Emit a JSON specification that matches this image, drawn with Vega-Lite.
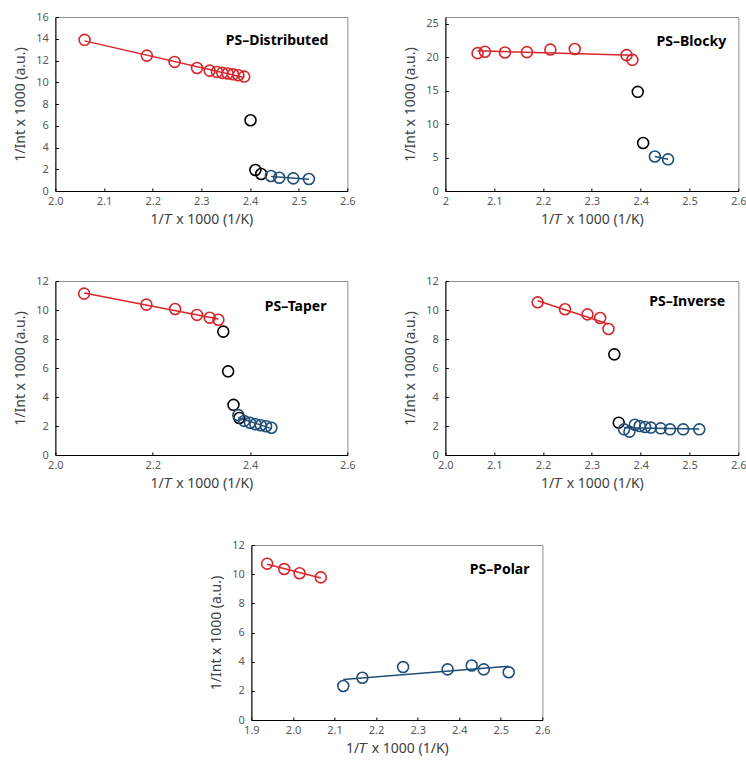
{
  "$schema": "https://vega.github.io/schema/vega-lite/v6.json",
  "background": "white",
  "padding": {"left": 13, "top": 10, "right": 0, "bottom": 0},
  "datasets": {
    "pts": [
      {"panel": "D", "grp": "red", "invT": 2.060, "invI": 13.9},
      {"panel": "D", "grp": "red", "invT": 2.188, "invI": 12.45},
      {"panel": "D", "grp": "red", "invT": 2.245, "invI": 11.87},
      {"panel": "D", "grp": "red", "invT": 2.291, "invI": 11.31},
      {"panel": "D", "grp": "red", "invT": 2.317, "invI": 11.07},
      {"panel": "D", "grp": "red", "invT": 2.332, "invI": 10.95},
      {"panel": "D", "grp": "red", "invT": 2.343, "invI": 10.86},
      {"panel": "D", "grp": "red", "invT": 2.354, "invI": 10.80},
      {"panel": "D", "grp": "red", "invT": 2.365, "invI": 10.73},
      {"panel": "D", "grp": "red", "invT": 2.376, "invI": 10.64},
      {"panel": "D", "grp": "red", "invT": 2.388, "invI": 10.52},
      {"panel": "D", "grp": "black", "invT": 2.401, "invI": 6.51},
      {"panel": "D", "grp": "black", "invT": 2.411, "invI": 1.93},
      {"panel": "D", "grp": "black", "invT": 2.423, "invI": 1.56},
      {"panel": "D", "grp": "blue", "invT": 2.443, "invI": 1.38},
      {"panel": "D", "grp": "blue", "invT": 2.460, "invI": 1.22},
      {"panel": "D", "grp": "blue", "invT": 2.489, "invI": 1.16},
      {"panel": "D", "grp": "blue", "invT": 2.521, "invI": 1.10},

      {"panel": "B", "grp": "red", "invT": 2.066, "invI": 20.6},
      {"panel": "B", "grp": "red", "invT": 2.081, "invI": 20.8},
      {"panel": "B", "grp": "red", "invT": 2.122, "invI": 20.7},
      {"panel": "B", "grp": "red", "invT": 2.167, "invI": 20.75},
      {"panel": "B", "grp": "red", "invT": 2.215, "invI": 21.13},
      {"panel": "B", "grp": "red", "invT": 2.265, "invI": 21.22},
      {"panel": "B", "grp": "red", "invT": 2.371, "invI": 20.3},
      {"panel": "B", "grp": "red", "invT": 2.383, "invI": 19.6},
      {"panel": "B", "grp": "black", "invT": 2.394, "invI": 14.82},
      {"panel": "B", "grp": "black", "invT": 2.405, "invI": 7.17},
      {"panel": "B", "grp": "blue", "invT": 2.429, "invI": 5.16},
      {"panel": "B", "grp": "blue", "invT": 2.456, "invI": 4.73},

      {"panel": "T", "grp": "red", "invT": 2.059, "invI": 11.13},
      {"panel": "T", "grp": "red", "invT": 2.187, "invI": 10.37},
      {"panel": "T", "grp": "red", "invT": 2.246, "invI": 10.07},
      {"panel": "T", "grp": "red", "invT": 2.291, "invI": 9.66},
      {"panel": "T", "grp": "red", "invT": 2.317, "invI": 9.47},
      {"panel": "T", "grp": "red", "invT": 2.335, "invI": 9.33},
      {"panel": "T", "grp": "black", "invT": 2.345, "invI": 8.51},
      {"panel": "T", "grp": "black", "invT": 2.355, "invI": 5.77},
      {"panel": "T", "grp": "black", "invT": 2.366, "invI": 3.46},
      {"panel": "T", "grp": "black", "invT": 2.378, "invI": 2.55},
      {"panel": "T", "grp": "blue", "invT": 2.376, "invI": 2.75},
      {"panel": "T", "grp": "blue", "invT": 2.388, "invI": 2.35},
      {"panel": "T", "grp": "blue", "invT": 2.400, "invI": 2.22},
      {"panel": "T", "grp": "blue", "invT": 2.411, "invI": 2.12},
      {"panel": "T", "grp": "blue", "invT": 2.422, "invI": 2.05},
      {"panel": "T", "grp": "blue", "invT": 2.433, "invI": 1.98},
      {"panel": "T", "grp": "blue", "invT": 2.444, "invI": 1.88},

      {"panel": "I", "grp": "red", "invT": 2.189, "invI": 10.53},
      {"panel": "I", "grp": "red", "invT": 2.245, "invI": 10.05},
      {"panel": "I", "grp": "red", "invT": 2.291, "invI": 9.70},
      {"panel": "I", "grp": "red", "invT": 2.317, "invI": 9.45},
      {"panel": "I", "grp": "red", "invT": 2.334, "invI": 8.69},
      {"panel": "I", "grp": "black", "invT": 2.346, "invI": 6.94},
      {"panel": "I", "grp": "black", "invT": 2.355, "invI": 2.23},
      {"panel": "I", "grp": "blue", "invT": 2.366, "invI": 1.77},
      {"panel": "I", "grp": "blue", "invT": 2.377, "invI": 1.61},
      {"panel": "I", "grp": "blue", "invT": 2.388, "invI": 2.09},
      {"panel": "I", "grp": "blue", "invT": 2.398, "invI": 2.00},
      {"panel": "I", "grp": "blue", "invT": 2.409, "invI": 1.93},
      {"panel": "I", "grp": "blue", "invT": 2.421, "invI": 1.89},
      {"panel": "I", "grp": "blue", "invT": 2.441, "invI": 1.84},
      {"panel": "I", "grp": "blue", "invT": 2.460, "invI": 1.77},
      {"panel": "I", "grp": "blue", "invT": 2.487, "invI": 1.77},
      {"panel": "I", "grp": "blue", "invT": 2.520, "invI": 1.77},

      {"panel": "P", "grp": "red", "invT": 1.938, "invI": 10.72},
      {"panel": "P", "grp": "red", "invT": 1.979, "invI": 10.35},
      {"panel": "P", "grp": "red", "invT": 2.016, "invI": 10.06},
      {"panel": "P", "grp": "red", "invT": 2.067, "invI": 9.78},
      {"panel": "P", "grp": "blue", "invT": 2.121, "invI": 2.33},
      {"panel": "P", "grp": "blue", "invT": 2.167, "invI": 2.90},
      {"panel": "P", "grp": "blue", "invT": 2.265, "invI": 3.63},
      {"panel": "P", "grp": "blue", "invT": 2.372, "invI": 3.47},
      {"panel": "P", "grp": "blue", "invT": 2.430, "invI": 3.74},
      {"panel": "P", "grp": "blue", "invT": 2.459, "invI": 3.47},
      {"panel": "P", "grp": "blue", "invT": 2.519, "invI": 3.27}
    ]
  },
  "config": {
    "view": {"stroke": "#8c8c8c", "strokeWidth": 1},
    "axis": {
      "grid": false,
      "labelOverlap": false,
      "labelFlush": false,
      "domainColor": "#000000",
      "domainWidth": 1,
      "tickColor": "#000000",
      "tickSize": -3,
      "labelFont": "Noto Sans",
      "labelFontSize": 11,
      "labelColor": "#595959",
      "titleFont": "Noto Sans",
      "titleFontSize": 14,
      "titleFontWeight": "normal",
      "titleColor": "#404040"
    },
    "axisX": {"labelPadding": 7, "titlePadding": 6},
    "axisY": {"labelPadding": 10, "titlePadding": 8},
    "point": {"shape": "circle", "filled": false, "size": 120, "strokeWidth": 1.6, "opacity": 1},
    "line": {"strokeWidth": 1.5},
    "text": {"font": "Noto Sans", "fontSize": 14, "fontWeight": "bold", "align": "right", "baseline": "middle", "color": "#000000"}
  },
  "center": true,
  "spacing": 47,
  "vconcat": [
    {
      "spacing": 46,
      "hconcat": [
        {
          "width": 292, "height": 174,
          "layer": [
            {
              "data": {"name": "pts"},
              "transform": [{"filter": "datum.panel === 'D' && datum.grp !== 'black'"}, {"regression": "invI", "on": "invT", "groupby": ["grp"]}],
              "mark": "line",
              "encoding": {
                "x": {"field": "invT", "type": "quantitative", "scale": {"domain": [2.0, 2.6]}, "axis": {"values": [2.0, 2.1, 2.2, 2.3, 2.4, 2.5, 2.6], "format": ".1f", "title": "1/𝑇 x 1000 (1/K)"}},
                "y": {"field": "invI", "type": "quantitative", "scale": {"domain": [0, 16]}, "axis": {"values": [0, 2, 4, 6, 8, 10, 12, 14, 16], "format": "d", "title": "1/Int x 1000 (a.u.)"}},
                "color": {"field": "grp", "type": "nominal", "scale": {"domain": ["red", "black", "blue"], "range": ["#d7262b", "#000000", "#1f4e79"]}, "legend": null}
              }
            },
            {
              "data": {"name": "pts"},
              "transform": [{"filter": "datum.panel === 'D'"}],
              "mark": "point",
              "encoding": {
                "x": {"field": "invT", "type": "quantitative", "scale": {"domain": [2.0, 2.6]}, "axis": {"values": [2.0, 2.1, 2.2, 2.3, 2.4, 2.5, 2.6], "format": ".1f", "title": "1/𝑇 x 1000 (1/K)"}},
                "y": {"field": "invI", "type": "quantitative", "scale": {"domain": [0, 16]}, "axis": {"values": [0, 2, 4, 6, 8, 10, 12, 14, 16], "format": "d", "title": "1/Int x 1000 (a.u.)"}},
                "color": {"field": "grp", "type": "nominal", "scale": {"domain": ["red", "black", "blue"], "range": ["#d7262b", "#000000", "#1f4e79"]}, "legend": null}
              }
            },
            {
              "data": {"values": [{"label": "PS–Distributed"}]},
              "mark": "text",
              "encoding": {
                "text": {"field": "label"},
                "x": {"datum": 2.561, "type": "quantitative", "axis": {"values": [2.0, 2.1, 2.2, 2.3, 2.4, 2.5, 2.6], "format": ".1f", "title": "1/𝑇 x 1000 (1/K)"}},
                "y": {"datum": 13.79, "type": "quantitative", "axis": {"values": [0, 2, 4, 6, 8, 10, 12, 14, 16], "format": "d", "title": "1/Int x 1000 (a.u.)"}}
              }
            }
          ]
        },
        {
          "width": 293, "height": 174,
          "layer": [
            {
              "data": {"name": "pts"},
              "transform": [{"filter": "datum.panel === 'B' && datum.grp !== 'black'"}, {"regression": "invI", "on": "invT", "groupby": ["grp"]}],
              "mark": "line",
              "encoding": {
                "x": {"field": "invT", "type": "quantitative", "scale": {"domain": [2.0, 2.6]}, "axis": {"values": [2.0, 2.1, 2.2, 2.3, 2.4, 2.5, 2.6], "format": "~g", "title": "1/𝑇 x 1000 (1/K)"}},
                "y": {"field": "invI", "type": "quantitative", "scale": {"domain": [0, 25]}, "axis": {"values": [0, 5, 10, 15, 20, 25], "format": "d", "title": "1/Int x 1000 (a.u.)"}},
                "color": {"field": "grp", "type": "nominal", "scale": {"domain": ["red", "black", "blue"], "range": ["#d7262b", "#000000", "#1f4e79"]}, "legend": null}
              }
            },
            {
              "data": {"name": "pts"},
              "transform": [{"filter": "datum.panel === 'B'"}],
              "mark": "point",
              "encoding": {
                "x": {"field": "invT", "type": "quantitative", "scale": {"domain": [2.0, 2.6]}, "axis": {"values": [2.0, 2.1, 2.2, 2.3, 2.4, 2.5, 2.6], "format": "~g", "title": "1/𝑇 x 1000 (1/K)"}},
                "y": {"field": "invI", "type": "quantitative", "scale": {"domain": [0, 25]}, "axis": {"values": [0, 5, 10, 15, 20, 25], "format": "d", "title": "1/Int x 1000 (a.u.)"}},
                "color": {"field": "grp", "type": "nominal", "scale": {"domain": ["red", "black", "blue"], "range": ["#d7262b", "#000000", "#1f4e79"]}, "legend": null}
              }
            },
            {
              "data": {"values": [{"label": "PS–Blocky"}]},
              "mark": "text",
              "encoding": {
                "text": {"field": "label"},
                "x": {"datum": 2.575, "type": "quantitative", "axis": {"values": [2.0, 2.1, 2.2, 2.3, 2.4, 2.5, 2.6], "format": "~g", "title": "1/𝑇 x 1000 (1/K)"}},
                "y": {"datum": 22.27, "type": "quantitative", "axis": {"values": [0, 5, 10, 15, 20, 25], "format": "d", "title": "1/Int x 1000 (a.u.)"}}
              }
            }
          ]
        }
      ]
    },
    {
      "spacing": 46,
      "hconcat": [
        {
          "width": 292, "height": 174,
          "layer": [
            {
              "data": {"name": "pts"},
              "transform": [{"filter": "datum.panel === 'T' && datum.grp !== 'black'"}, {"regression": "invI", "on": "invT", "groupby": ["grp"]}],
              "mark": "line",
              "encoding": {
                "x": {"field": "invT", "type": "quantitative", "scale": {"domain": [2.0, 2.6]}, "axis": {"values": [2.0, 2.2, 2.4, 2.6], "format": ".1f", "title": "1/𝑇 x 1000 (1/K)"}},
                "y": {"field": "invI", "type": "quantitative", "scale": {"domain": [0, 12]}, "axis": {"values": [0, 2, 4, 6, 8, 10, 12], "format": "d", "title": "1/Int x 1000 (a.u.)"}},
                "color": {"field": "grp", "type": "nominal", "scale": {"domain": ["red", "black", "blue"], "range": ["#d7262b", "#000000", "#1f4e79"]}, "legend": null}
              }
            },
            {
              "data": {"name": "pts"},
              "transform": [{"filter": "datum.panel === 'T'"}],
              "mark": "point",
              "encoding": {
                "x": {"field": "invT", "type": "quantitative", "scale": {"domain": [2.0, 2.6]}, "axis": {"values": [2.0, 2.2, 2.4, 2.6], "format": ".1f", "title": "1/𝑇 x 1000 (1/K)"}},
                "y": {"field": "invI", "type": "quantitative", "scale": {"domain": [0, 12]}, "axis": {"values": [0, 2, 4, 6, 8, 10, 12], "format": "d", "title": "1/Int x 1000 (a.u.)"}},
                "color": {"field": "grp", "type": "nominal", "scale": {"domain": ["red", "black", "blue"], "range": ["#d7262b", "#000000", "#1f4e79"]}, "legend": null}
              }
            },
            {
              "data": {"values": [{"label": "PS–Taper"}]},
              "mark": "text",
              "encoding": {
                "text": {"field": "label"},
                "x": {"datum": 2.557, "type": "quantitative", "axis": {"values": [2.0, 2.2, 2.4, 2.6], "format": ".1f", "title": "1/𝑇 x 1000 (1/K)"}},
                "y": {"datum": 10.21, "type": "quantitative", "axis": {"values": [0, 2, 4, 6, 8, 10, 12], "format": "d", "title": "1/Int x 1000 (a.u.)"}}
              }
            }
          ]
        },
        {
          "width": 293, "height": 174,
          "layer": [
            {
              "data": {"name": "pts"},
              "transform": [{"filter": "datum.panel === 'I' && datum.grp !== 'black'"}, {"regression": "invI", "on": "invT", "groupby": ["grp"]}],
              "mark": "line",
              "encoding": {
                "x": {"field": "invT", "type": "quantitative", "scale": {"domain": [2.0, 2.6]}, "axis": {"values": [2.0, 2.1, 2.2, 2.3, 2.4, 2.5, 2.6], "format": ".1f", "title": "1/𝑇 x 1000 (1/K)"}},
                "y": {"field": "invI", "type": "quantitative", "scale": {"domain": [0, 12]}, "axis": {"values": [0, 2, 4, 6, 8, 10, 12], "format": "d", "title": "1/Int x 1000 (a.u.)"}},
                "color": {"field": "grp", "type": "nominal", "scale": {"domain": ["red", "black", "blue"], "range": ["#d7262b", "#000000", "#1f4e79"]}, "legend": null}
              }
            },
            {
              "data": {"name": "pts"},
              "transform": [{"filter": "datum.panel === 'I'"}],
              "mark": "point",
              "encoding": {
                "x": {"field": "invT", "type": "quantitative", "scale": {"domain": [2.0, 2.6]}, "axis": {"values": [2.0, 2.1, 2.2, 2.3, 2.4, 2.5, 2.6], "format": ".1f", "title": "1/𝑇 x 1000 (1/K)"}},
                "y": {"field": "invI", "type": "quantitative", "scale": {"domain": [0, 12]}, "axis": {"values": [0, 2, 4, 6, 8, 10, 12], "format": "d", "title": "1/Int x 1000 (a.u.)"}},
                "color": {"field": "grp", "type": "nominal", "scale": {"domain": ["red", "black", "blue"], "range": ["#d7262b", "#000000", "#1f4e79"]}, "legend": null}
              }
            },
            {
              "data": {"values": [{"label": "PS–Inverse"}]},
              "mark": "text",
              "encoding": {
                "text": {"field": "label"},
                "x": {"datum": 2.573, "type": "quantitative", "axis": {"values": [2.0, 2.1, 2.2, 2.3, 2.4, 2.5, 2.6], "format": ".1f", "title": "1/𝑇 x 1000 (1/K)"}},
                "y": {"datum": 10.55, "type": "quantitative", "axis": {"values": [0, 2, 4, 6, 8, 10, 12], "format": "d", "title": "1/Int x 1000 (a.u.)"}}
              }
            }
          ]
        }
      ]
    },
    {
      "width": 291, "height": 175,
      "layer": [
        {
          "data": {"name": "pts"},
          "transform": [{"filter": "datum.panel === 'P' && datum.grp !== 'black'"}, {"regression": "invI", "on": "invT", "groupby": ["grp"]}],
          "mark": "line",
          "encoding": {
            "x": {"field": "invT", "type": "quantitative", "scale": {"domain": [1.9, 2.6]}, "axis": {"values": [1.9, 2.0, 2.1, 2.2, 2.3, 2.4, 2.5, 2.6], "format": ".1f", "title": "1/𝑇 x 1000 (1/K)"}},
            "y": {"field": "invI", "type": "quantitative", "scale": {"domain": [0, 12]}, "axis": {"values": [0, 2, 4, 6, 8, 10, 12], "format": "d", "title": "1/Int x 1000 (a.u.)"}},
            "color": {"field": "grp", "type": "nominal", "scale": {"domain": ["red", "black", "blue"], "range": ["#d7262b", "#000000", "#1f4e79"]}, "legend": null}
          }
        },
        {
          "data": {"name": "pts"},
          "transform": [{"filter": "datum.panel === 'P'"}],
          "mark": "point",
          "encoding": {
            "x": {"field": "invT", "type": "quantitative", "scale": {"domain": [1.9, 2.6]}, "axis": {"values": [1.9, 2.0, 2.1, 2.2, 2.3, 2.4, 2.5, 2.6], "format": ".1f", "title": "1/𝑇 x 1000 (1/K)"}},
            "y": {"field": "invI", "type": "quantitative", "scale": {"domain": [0, 12]}, "axis": {"values": [0, 2, 4, 6, 8, 10, 12], "format": "d", "title": "1/Int x 1000 (a.u.)"}},
            "color": {"field": "grp", "type": "nominal", "scale": {"domain": ["red", "black", "blue"], "range": ["#d7262b", "#000000", "#1f4e79"]}, "legend": null}
          }
        },
        {
          "data": {"values": [{"label": "PS–Polar"}]},
          "mark": "text",
          "encoding": {
            "text": {"field": "label"},
            "x": {"datum": 2.569, "type": "quantitative", "axis": {"values": [1.9, 2.0, 2.1, 2.2, 2.3, 2.4, 2.5, 2.6], "format": ".1f", "title": "1/𝑇 x 1000 (1/K)"}},
            "y": {"datum": 10.29, "type": "quantitative", "axis": {"values": [0, 2, 4, 6, 8, 10, 12], "format": "d", "title": "1/Int x 1000 (a.u.)"}}
          }
        }
      ]
    }
  ]
}
